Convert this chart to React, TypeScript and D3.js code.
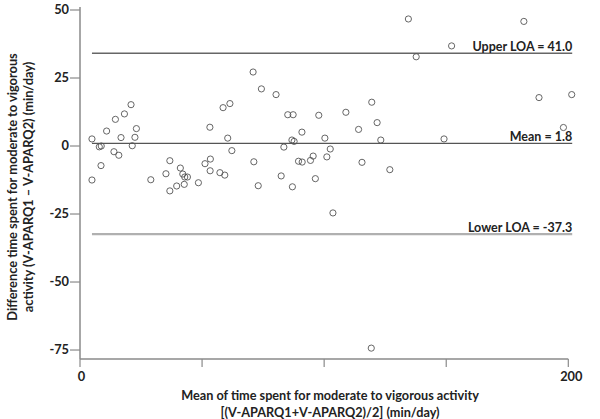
import React from "react";
import * as d3 from "d3";

// Mean of the two measurements (min/day)
const meanValues = [
  4.9, 7.9, 8.7, 8.6, 4.9, 10.9, 14.5, 13.9, 15.9, 16.8, 18.2, 20.9, 21.4, 22.5, 23.1,
  29.0, 35.2, 36.8, 36.8, 39.6, 41.1, 42.1, 42.9, 44.0, 42.7, 48.5, 51.2, 53.4, 53.3, 53.2,
  57.3, 59.3, 60.5, 62.2, 58.6, 61.4, 70.9, 74.3, 80.3, 85.1, 87.3, 97.8, 108.9, 119.5,
  90.9, 114.1, 121.7, 86.8, 87.7, 100.3, 123.2, 71.2, 73.0, 82.4, 83.5, 87.0, 89.5, 91.0,
  95.5, 94.4, 96.4, 102.5, 101.1, 103.6, 115.5, 126.9, 134.5, 181.8, 152.2, 137.7, 188.0,
  201.4, 198.0, 149.1, 119.3,
];
// Difference between the two measurements (min/day)
const diffValues = [
  2.6, -0.3, 0.0, -7.2, -12.5, 5.5, 9.8, -2.1, -3.4, 3.1, 11.8, 15.2, 0.1, 3.2, 6.4,
  -12.4, -10.2, -5.4, -16.5, -14.7, -8.1, -10.3, -11.4, -11.4, -14.1, -13.5, -6.5, -4.8, -9.1, 6.9,
  -9.8, -10.7, 2.9, -1.7, 14.1, 15.6, 27.2, 21.0, 18.9, 11.5, 11.5, 11.3, 12.4, 16.1,
  5.1, 6.1, 8.6, 2.2, 1.7, 2.9, 2.2, -5.8, -14.6, -11.0, -0.4, -15.0, -5.6, -5.9,
  -3.7, -5.3, -12.0, -1.1, -4.0, -24.6, -6.0, -8.7, 46.7, 45.8, 36.8, 32.8, 17.8,
  18.9, 6.8, 2.6, -74.3,
];

const xTickValues = [0, 50, 100, 150, 200];
const xTickLabels = ["0", "", "", "", "200"];
const yTickValues = [50, 25, 0, -25, -50, -75];
const yTickLabels = ["50", "25", "0", "-25", "-50", "-75"];

// Reference lines as drawn in the picture, with their labels
const refLineValues = [34.1, 1.0, -32.4];
const refLineLabels = ["Upper LOA = 41.0", "Mean = 1.8", "Lower LOA = -37.3"];
const refLineStart = 4.9;
const refLineEnd = 201.6;

const xTitleLines = [
  "Mean of time spent for moderate to vigorous activity",
  "[(V-APARQ1+V-APARQ2)/2] (min/day)",
];
const yTitleLines = [
  "Difference time spent for moderate to vigorous",
  "activity (V-APARQ1 \u2013 V-APARQ2) (min/day)",
];

const FONT = "Lato, 'Open Sans', sans-serif";

export default function App() {
  const W = 600;
  const H = 419;
  const x = d3.scaleLinear().domain([0, 200]).range([80, 568.3]);
  const y = d3.scaleLinear().domain([-78.3, 50]).range([359, 10]);

  const axisColor = "#8a8a8a";
  const textColor = "#222";
  const refStyles = [
    { stroke: "#666", width: 1.3 },
    { stroke: "#555", width: 1.3 },
    { stroke: "#b0b0b0", width: 2.2 },
  ];

  const points = meanValues.map((m, i) => ({ m, d: diffValues[i] }));

  return (
    <div style={{ position: "fixed", left: 0, top: 0, width: W, height: H, background: "#fff" }}>
      <svg width={W} height={H} style={{ display: "block" }}>
        <rect width={W} height={H} fill="#fff" />
        {/* reference lines */}
        {refLineValues.map((v, i) => (
          <g key={"ref" + i}>
            <line
              x1={x(refLineStart)}
              x2={x(refLineEnd)}
              y1={y(v)}
              y2={y(v)}
              stroke={refStyles[i].stroke}
              strokeWidth={refStyles[i].width}
            />
            <text
              x={x(refLineEnd)}
              y={y(v) - 1.8}
              textAnchor="end"
              fontFamily={FONT}
              fontWeight={700}
              fontSize={12.5}
              fill={textColor}
            >
              {refLineLabels[i]}
            </text>
          </g>
        ))}
        {/* points */}
        {points.map((p, i) => (
          <circle
            key={"pt" + i}
            cx={x(p.m)}
            cy={y(p.d)}
            r={3.1}
            fill="none"
            stroke="#555"
            strokeWidth={0.9}
          />
        ))}
        {/* y axis */}
        <line x1={x(0)} x2={x(0)} y1={7} y2={y(-78.3)} stroke={axisColor} strokeWidth={1.5} />
        {yTickValues.map((v, i) => (
          <g key={"yt" + i}>
            <line x1={x(0) - 10} x2={x(0)} y1={y(v)} y2={y(v)} stroke={axisColor} strokeWidth={1.2} />
            <text
              x={x(0) - 11}
              y={y(v) + 4.4}
              textAnchor="end"
              fontFamily={FONT}
              fontWeight={700}
              fontSize={12.8}
              fill={textColor}
            >
              {yTickLabels[i]}
            </text>
          </g>
        ))}
        {/* x axis */}
        <line x1={x(0)} x2={x(200)} y1={y(-78.3)} y2={y(-78.3)} stroke={axisColor} strokeWidth={1.5} />
        {xTickValues.map((v, i) => (
          <g key={"xt" + i}>
            <line x1={x(v)} x2={x(v)} y1={y(-78.3)} y2={y(-78.3) + 8} stroke={axisColor} strokeWidth={1.2} />
            <text
              x={x(v) + (i === 0 ? 1.5 : 3)}
              y={y(-78.3) + 22}
              textAnchor="middle"
              fontFamily={FONT}
              fontWeight={700}
              fontSize={12.8}
              fill={textColor}
            >
              {xTickLabels[i]}
            </text>
          </g>
        ))}
        {/* x title */}
        {xTitleLines.map((t, i) => (
          <text
            key={"xtl" + i}
            x={330}
            y={400 + i * 16.5}
            textAnchor="middle"
            fontFamily={FONT}
            fontWeight={700}
            fontSize={12.7}
            fill={textColor}
          >
            {t}
          </text>
        ))}
        {/* y title */}
        {yTitleLines.map((t, i) => (
          <text
            key={"ytl" + i}
            transform={`translate(${16.5 + i * 16},187) rotate(-90)`}
            textAnchor="middle"
            fontFamily={FONT}
            fontWeight={700}
            fontSize={12.8}
            fill={textColor}
          >
            {t}
          </text>
        ))}
      </svg>
    </div>
  );
}
